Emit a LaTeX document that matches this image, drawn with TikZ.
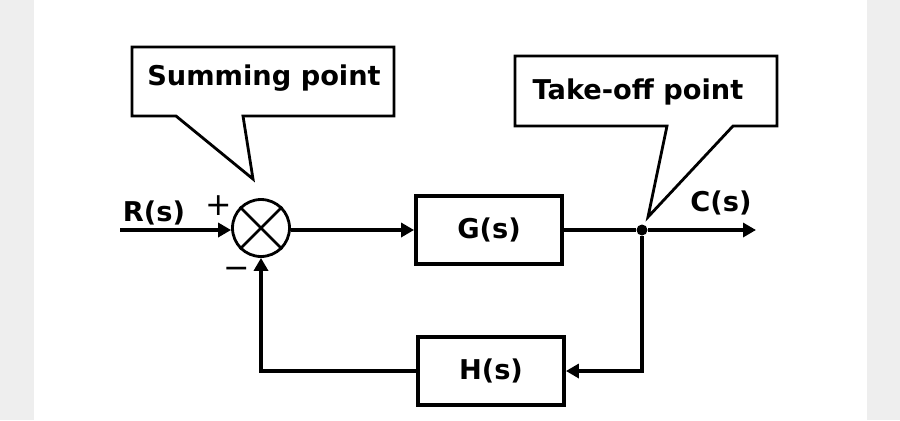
\documentclass[tikz,border=0pt]{standalone}
\usepackage{fontspec}
\setmainfont{DejaVu Sans}
\usetikzlibrary{arrows.meta}
\definecolor{bandgray}{RGB}{238,238,238}

\begin{document}
\begin{tikzpicture}[x=0.02cm, y=-0.02cm, thick,
  block/.style = {draw, line width=2.2pt, minimum width=2.92cm, minimum height=1.36cm, font=\bfseries\fontsize{15.5}{17}\selectfont},
  sumpt/.style = {draw, circle, line width=1.6pt, minimum size=1.14cm, inner sep=0pt},
  sig/.style = {line width=2.2pt, -{Triangle[length=0.26cm,width=0.28cm]}},
  wire/.style = {line width=2.2pt},
  lbl/.style = {font=\bfseries\fontsize{15.5}{17}\selectfont},
  sgn/.style = {font=\fontsize{18}{20}\selectfont},
  callout/.style = {draw, line width=1.6pt, fill=white}]

% page and side bands
\fill[bandgray] (0,0) rectangle (34,420);
\fill[bandgray] (867,0) rectangle (900,420);
\useasboundingbox (0,0) rectangle (900,420);

% callouts
\draw[callout] (132,47) -- (394,47) -- (394,116) -- (243,116) -- (253,179) -- (176,116) -- (132,116) -- cycle;
\node[lbl] (sumtxt) at (264,78) {Summing point};
\draw[callout] (515,56) -- (777,56) -- (777,126) -- (733,126) -- (648,217) -- (667,126) -- (515,126) -- cycle;
\node[lbl] (tptxt) at (638,92) {Take-off point};

% blocks
\node[sumpt] (sum) at (261,228) {};
\draw[line width=1.6pt] (sum.north east) -- (sum.south west) (sum.north west) -- (sum.south east);
\node[block] (G) at (489,230) {G(s)};
\node[block] (H) at (491,371) {H(s)};
\node[circle, fill, inner sep=0pt, minimum size=0.22cm] (tp) at (642,230) {};
\coordinate (in) at (120,230);
\coordinate (out) at (756,230);

% labels
\node[lbl] (R) at (154,213) {R(s)};
\node[lbl] (C) at (721,203) {C(s)};
\node[sgn] (plus) at (219,206) {+};
\node[sgn] (minus) at (237,273) {−};

% signals
\draw[sig] (in) -- (sum.west |- in);
\draw[sig] (sum.east |- G) -- (G.west);
\draw[wire] (G.east) -- (tp);
\draw[sig] (tp) -- (out);
\draw[sig] (tp) |- (H.east);
\draw[sig] (H.west) -| (sum.south);
\end{tikzpicture}
\end{document}
